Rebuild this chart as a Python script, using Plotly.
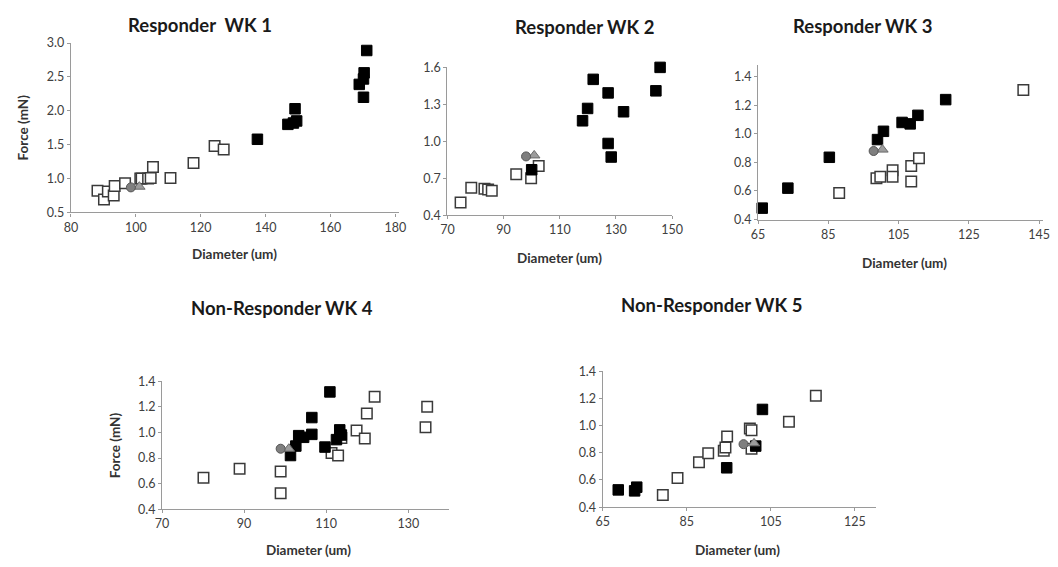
import plotly.graph_objects as go

W, H = 1058, 567

# ---- data (diameter in um, force in mN) ----
wk1_open_x = [88.2, 90.2, 91.4, 93.2, 93.5, 96.7, 101.4, 101.8, 103.8, 104.6, 105.3, 110.7, 117.8, 124.3, 127.1]
wk1_open_y = [0.82, 0.69, 0.81, 0.75, 0.89, 0.93, 1.00, 1.00, 1.00, 1.01, 1.17, 1.01, 1.23, 1.48, 1.43]
wk1_fill_x = [137.5, 146.9, 148.6, 149.1, 149.6, 168.9, 170.2, 170.4, 170.2, 171.2]
wk1_fill_y = [1.58, 1.80, 1.82, 2.03, 1.85, 2.39, 2.47, 2.56, 2.20, 2.89]

wk2_open_x = [74.7, 78.5, 83.2, 84.5, 85.8, 94.5, 99.8, 102.5]
wk2_open_y = [0.505, 0.623, 0.615, 0.61, 0.60, 0.733, 0.70, 0.80]
wk2_fill_x = [100.0, 118.1, 119.9, 121.9, 127.2, 132.7, 127.2, 128.3, 144.2, 145.7]
wk2_fill_y = [0.77, 1.167, 1.267, 1.503, 1.393, 1.24, 0.983, 0.873, 1.41, 1.60]

wk3_open_x = [88.1, 98.7, 99.8, 103.3, 103.3, 108.6, 108.6, 110.8, 140.5]
wk3_open_y = [0.586, 0.69, 0.70, 0.745, 0.70, 0.775, 0.666, 0.83, 1.307]
wk3_fill_x = [66.2, 73.5, 85.3, 99.0, 100.7, 106.0, 108.3, 110.5, 118.4]
wk3_fill_y = [0.48, 0.62, 0.836, 0.96, 1.018, 1.08, 1.07, 1.13, 1.24]

wk4_open_x = [80.1, 88.9, 98.9, 98.9, 111.3, 112.9, 113.7, 117.4, 119.4, 119.9, 121.8, 134.6, 134.2]
wk4_open_y = [0.646, 0.716, 0.696, 0.526, 0.84, 0.82, 0.957, 1.015, 0.952, 1.147, 1.278, 1.20, 1.04]
wk4_fill_x = [101.3, 102.6, 103.3, 104.5, 106.5, 106.5, 109.7, 110.9, 112.5, 113.3, 113.7]
wk4_fill_y = [0.82, 0.894, 0.975, 0.962, 0.985, 1.116, 0.886, 1.316, 0.944, 1.02, 0.98]

wk5_open_x = [79.3, 82.8, 87.9, 90.1, 93.8, 94.2, 94.6, 100.0, 100.4, 100.4, 109.3, 115.7]
wk5_open_y = [0.49, 0.615, 0.73, 0.797, 0.815, 0.84, 0.92, 0.98, 0.967, 0.83, 1.03, 1.22]
wk5_fill_x = [68.7, 72.6, 73.1, 94.5, 101.4, 103.0]
wk5_fill_y = [0.527, 0.52, 0.547, 0.69, 0.85, 1.12]

# reference markers (circle / triangle) per panel
ref_circle_x = [98.5, 98.0, 97.9, 98.9, 98.5]
ref_circle_y = [0.87, 0.878, 0.88, 0.873, 0.864]
ref_tri_x = [101.1, 100.9, 100.4, 100.9, 101.0]
ref_tri_y = [0.88, 0.886, 0.89, 0.873, 0.87]

titles = ["Responder&nbsp;&nbsp;WK 1", "Responder WK 2", "Responder WK 3",
          "Non-Responder WK 4", "Non-Responder WK 5"]

panels = [
    dict(ox=wk1_open_x, oy=wk1_open_y, fx=wk1_fill_x, fy=wk1_fill_y,
         xr=[80, 181], yr=[0.5, 3.0], xd=20, yd=0.5, yfmt=".1f",
         box=(65, 398.3, 36, 210), tpos=(196, 17), xtpos=(231, 253), ytitle=(16, 123)),
    dict(ox=wk2_open_x, oy=wk2_open_y, fx=wk2_fill_x, fy=wk2_fill_y,
         xr=[70, 150], yr=[0.4, 1.6], xd=20, yd=0.3, yfmt=".1f",
         box=(448, 676.7, 61, 213), tpos=(587, 20), xtpos=(562, 257), ytitle=None),
    dict(ox=wk3_open_x, oy=wk3_open_y, fx=wk3_fill_x, fy=wk3_fill_y,
         xr=[65, 146], yr=[0.4, 1.48], xd=20, yd=0.2, yfmt=".1f",
         box=(764, 1053.6, 58.9, 217.3), tpos=(870, 18), xtpos=(913, 262), ytitle=None),
    dict(ox=wk4_open_x, oy=wk4_open_y, fx=wk4_fill_x, fy=wk4_fill_y,
         xr=[70, 140], yr=[0.4, 1.4], xd=20, yd=0.2, yfmt=".1f",
         box=(157.7, 450, 383.3, 515), tpos=(280, 308), xtpos=(307, 557), ytitle=(110, 449)),
    dict(ox=wk5_open_x, oy=wk5_open_y, fx=wk5_fill_x, fy=wk5_fill_y,
         xr=[65, 130], yr=[0.4, 1.4], xd=20, yd=0.2, yfmt=".1f",
         box=(606, 884, 373.3, 512.7), tpos=(717, 305), xtpos=(743, 557), ytitle=None),
]

FONT = "Lato"
AX_COLOR = "#9a9a9a"
TXT = "#404040"

fig = go.Figure()
layout = dict(width=W, height=H, margin=dict(l=0, r=0, t=0, b=0),
              paper_bgcolor="white", plot_bgcolor="white", showlegend=False,
              font=dict(family=FONT, color=TXT))
annotations = []

for i, p in enumerate(panels):
    n = "" if i == 0 else str(i + 1)
    xa, ya = "x" + n, "y" + n
    x0, x1, yt, yb = p["box"]
    layout["xaxis" + n] = dict(
        domain=[x0 / W, x1 / W], range=p["xr"], dtick=p["xd"], tick0=p["xr"][0],
        anchor=ya, showgrid=False, zeroline=False, showline=True, linecolor=AX_COLOR,
        linewidth=1.2, ticks="outside", ticklen=3, tickcolor=AX_COLOR,
        tickfont=dict(size=12.5, color=TXT, family=FONT))
    layout["yaxis" + n] = dict(
        domain=[(H - yb) / H, (H - yt) / H], range=p["yr"], dtick=p["yd"], tick0=p["yr"][0],
        tickformat=p["yfmt"], anchor=xa, showgrid=False, zeroline=False, showline=True,
        linecolor=AX_COLOR, linewidth=1.2, ticks="outside", ticklen=3, tickcolor=AX_COLOR,
        tickfont=dict(size=12.5, color=TXT, family=FONT))

    fig.add_trace(go.Scatter(x=p["ox"], y=p["oy"], mode="markers", xaxis=xa, yaxis=ya,
                             cliponaxis=False,
                             marker=dict(symbol="square", size=10.5, color="white",
                                         line=dict(color="#3a3a3a", width=1.5))))
    fig.add_trace(go.Scatter(x=p["fx"], y=p["fy"], mode="markers", xaxis=xa, yaxis=ya,
                             cliponaxis=False,
                             marker=dict(symbol="square", size=10.5, color="black",
                                         line=dict(color="black", width=1))))
    fig.add_trace(go.Scatter(x=[ref_tri_x[i]], y=[ref_tri_y[i]], mode="markers",
                             xaxis=xa, yaxis=ya, cliponaxis=False,
                             marker=dict(symbol="triangle-up", size=10, color="#9c9c9c",
                                         line=dict(color="#6a6a6a", width=1))))
    fig.add_trace(go.Scatter(x=[ref_circle_x[i]], y=[ref_circle_y[i]], mode="markers",
                             xaxis=xa, yaxis=ya, cliponaxis=False,
                             marker=dict(symbol="circle", size=9, color="#7f7f7f",
                                         line=dict(color="#555555", width=1))))

    tx, ty = p["tpos"]
    annotations.append(dict(text="<b>%s</b>" % titles[i], x=tx / W, y=(H - ty) / H,
                            xref="paper", yref="paper", showarrow=False,
                            xanchor="center", yanchor="middle",
                            font=dict(size=18.5, color="#1a1a1a", family=FONT)))
    xx, xy = p["xtpos"]
    annotations.append(dict(text="<b>Diameter (um)</b>", x=xx / W, y=(H - xy) / H,
                            xref="paper", yref="paper", showarrow=False,
                            xanchor="center", yanchor="middle",
                            font=dict(size=13.5, color="#333333", family=FONT)))
    if p["ytitle"]:
        yx, yy = p["ytitle"]
        annotations.append(dict(text="<b>Force (mN)</b>", x=yx / W, y=(H - yy) / H,
                                xref="paper", yref="paper", showarrow=False, textangle=-90,
                                xanchor="center", yanchor="middle",
                                font=dict(size=13.5, color="#333333", family=FONT)))

layout["annotations"] = annotations
fig.update_layout(**layout)
fig.write_html("out.html")
